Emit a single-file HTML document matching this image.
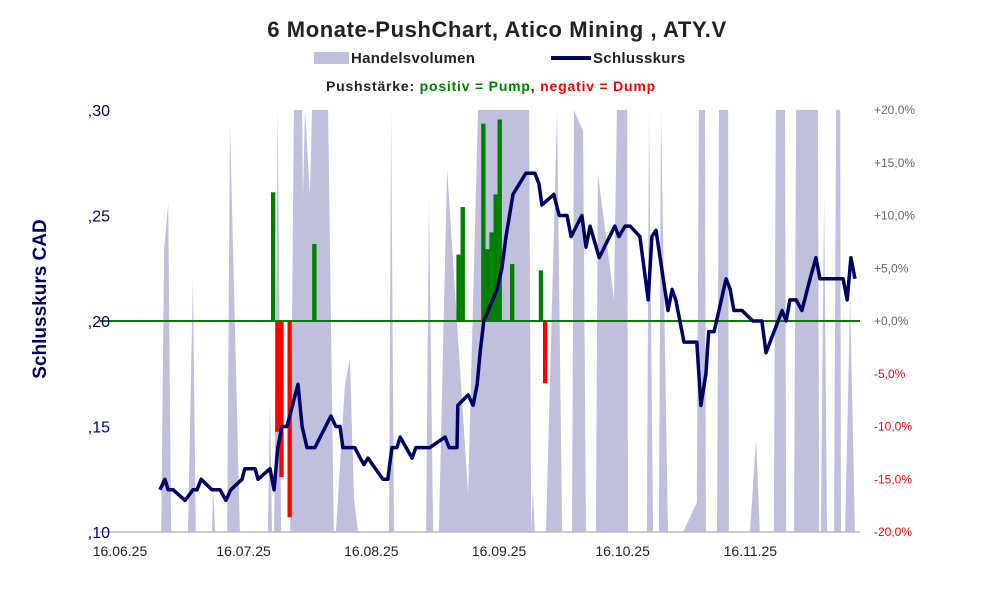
<!DOCTYPE html>
<html><head><meta charset="utf-8"><style>
body{margin:0;background:#fff;}
svg{display:block;font-family:"Liberation Sans",sans-serif;}
</style></head><body>
<svg id="chart" width="993" height="597" viewBox="0 0 993 597">
<text x="497" y="37" text-anchor="middle" font-size="22" font-weight="bold" fill="#222" letter-spacing="0.6">6 Monate-PushChart, Atico Mining , ATY.V</text>
<g>
<rect x="314" y="52" width="35" height="12" fill="#c0c0dc"/>
<text x="351" y="63" font-size="15" font-weight="bold" fill="#222" letter-spacing="0.3">Handelsvolumen</text>
<line x1="551" y1="58" x2="591" y2="58" stroke="#000066" stroke-width="4"/>
<text x="593" y="63" font-size="15" font-weight="bold" fill="#222" letter-spacing="0.3">Schlusskurs</text>
</g>
<text x="491" y="91" text-anchor="middle" font-size="14" font-weight="bold" letter-spacing="0.8"><tspan fill="#222">Pushstärke:  </tspan><tspan fill="#008000">positiv = Pump</tspan><tspan fill="#222">,  </tspan><tspan fill="#ff0000">negativ = Dump</tspan></text>
<text transform="translate(46,299) rotate(-90)" text-anchor="middle" font-size="19" font-weight="bold" fill="#000066">Schlusskurs CAD</text>
<g id="vol"></g>
<g id="grid"></g>
<g id="bars"></g>
<g id="line"></g>
<g id="axes"></g>
</svg>
<script>
const priceDays=[9.7,10.9,11.7,12.9,15.8,17.7,18.7,19.7,22.3,24.3,25.7,26.9,29.6,30.3,32.8,33.5,36.4,37.4,38.3,39.3,40.5,43.2,44.2,45.4,47.3,51.2,52.4,53.4,54.1,57.0,58.3,59.2,60.2,63.8,65.0,66.0,67.2,68.0,70.9,71.8,75.2,78.9,79.9,81.8,82.0,84.5,85.7,86.7,87.4,88.3,91.5,92.7,93.7,95.4,98.5,100.7,101.7,102.4,105.3,106.6,108.5,109.5,112.1,113.1,114.1,116.3,120.1,121.1,122.6,123.8,126.2,128.2,129.1,130.1,133.0,134.0,134.9,136.9,140.0,141.0,142.2,142.9,144.2,147.1,148.1,149.0,151.0,153.6,155.8,156.8,160.7,161.7,162.6,164.1,165.5,167.5,168.9,169.9,175.5,176.5,177.4,178.4];
const priceVals=[0.12,0.125,0.12,0.12,0.115,0.12,0.12,0.125,0.12,0.12,0.115,0.12,0.125,0.13,0.13,0.125,0.13,0.12,0.14,0.15,0.15,0.17,0.15,0.14,0.14,0.155,0.15,0.15,0.14,0.14,0.135,0.132,0.135,0.125,0.125,0.14,0.14,0.145,0.135,0.14,0.14,0.145,0.14,0.14,0.16,0.165,0.16,0.17,0.185,0.2,0.215,0.225,0.24,0.26,0.27,0.27,0.265,0.255,0.26,0.25,0.25,0.24,0.25,0.235,0.245,0.23,0.245,0.24,0.245,0.245,0.24,0.21,0.24,0.243,0.205,0.215,0.21,0.19,0.19,0.16,0.175,0.195,0.195,0.22,0.215,0.205,0.205,0.2,0.2,0.185,0.205,0.2,0.21,0.21,0.205,0.22,0.23,0.22,0.22,0.21,0.23,0.22];
const pushDays=[37,38,39,41,47,82,83,88,89,90,91,92,95,102,103];
const pushVals=[12.2,-10.5,-14.8,-18.6,7.3,6.3,10.8,18.7,6.8,8.4,12.0,19.1,5.4,4.8,-5.9];
const volDays=[10.0,10.7,11.7,12.4,16.5,17.7,18.4,22.3,22.6,23.1,26.0,26.7,29.1,35.9,36.4,36.9,37.4,38.3,39.1,41.3,42.2,44.2,44.4,44.9,46.1,46.6,50.5,51.9,52.4,54.6,55.8,56.8,57.8,65.3,65.8,66.5,74.3,75.0,76.0,77.4,79.4,84.5,86.9,99.3,99.8,100.2,100.7,103.4,106.1,107.3,109.7,110.2,112.4,113.1,115.5,116.0,119.9,120.6,123.1,123.3,127.9,128.4,129.4,130.8,131.3,133.0,136.7,140.0,140.5,142.0,142.2,144.9,145.4,147.6,147.8,152.9,154.4,155.3,158.7,159.2,161.4,161.7,163.6,164.1,169.4,169.7,170.1,170.9,171.6,173.3,173.8,174.8,175.0,176.0,177.2,178.4];
const volVals=[0,0.67,0.78,0,0,0.6,0,0,0.1,0,0,0.97,0,0,0.31,0,0,1,0,0,1,1,0.79,1,0.8,1,1,0,0,0.35,0.41,0.08,0,0,1,0,0,0.79,0,0,0.86,0.09,1,1,0,0.1,0,0,1,0,0,1,0.95,0,0,0.85,0.55,1,1,0,0,1,0,0,1,0,0,0.07,1,1,0,0,1,1,0,0,0.22,0,0,1,1,0,0,1,1,0,0,0.8,0,0,1,1,0,0,0.55,0];
const yTicks=[0.10,0.15,0.20,0.25,0.30];
const yTickLabels=[",10",",15",",20",",25",",30"];
const pTicks=[-20,-15,-10,-5,0,5,10,15,20];
const pTickLabels=["-20,0%","-15,0%","-10,0%","-5,0%","+0,0%","+5,0%","+10,0%","+15,0%","+20,0%"];
const xTickDays=[0,30,61,92,122,153];
const xTickLabels=["16.06.25","16.07.25","16.08.25","16.09.25","16.10.25","16.11.25"];

const NS="http://www.w3.org/2000/svg";
const L=100,R=860,T=110,B=532;
const X=d=>120+d*4.12;
const Y=v=>B-(v-0.10)/0.20*(B-T);
const P=p=>321-p/20*(321-T);
const V=f=>B-Math.min(f,1)*(B-T);
function mk(tag,at,parent){const e=document.createElementNS(NS,tag);for(const k in at)e.setAttribute(k,at[k]);parent.appendChild(e);return e;}

let d="M"+X(volDays[0])+","+B;
volDays.forEach((dd,i)=>{d+=" L"+X(dd).toFixed(1)+","+V(volVals[i]).toFixed(1);});
d+=" L"+X(volDays[volDays.length-1])+","+B+" Z";
const vp=mk("path",{d:d,fill:"#c0c0dc"},document.getElementById("vol"));



const ax=document.getElementById("axes"), gr=document.getElementById("grid");
const bl=mk("line",{x1:L,y1:B,x2:R,y2:B,stroke:"#bbb","stroke-width":1.5},gr);



const bg=document.getElementById("bars");
pushDays.forEach((dd,i)=>{
  const v=pushVals[i];const y0=P(0),y1=P(v);
  const r=mk("rect",{x:(X(dd)-1.4).toFixed(1),y:Math.min(y0,y1),width:4.3,height:Math.abs(y1-y0),fill:v>=0?"#008000":"#ff0000"},bg);
  
  
});
const zl=mk("line",{x1:L,y1:P(0),x2:R,y2:P(0),stroke:"#008000","stroke-width":2},gr);



const pts=priceDays.map((dd,i)=>X(dd).toFixed(1)+","+Y(priceVals[i]).toFixed(1)).join(" ");
const pl=mk("polyline",{points:pts,fill:"none",stroke:"#000066","stroke-width":3.5,"stroke-linejoin":"round"},document.getElementById("line"));



yTicks.forEach((v,i)=>{const t=mk("text",{x:110,y:Y(v)+6,"text-anchor":"end","font-size":16,fill:"#000066"},ax);t.textContent=yTickLabels[i];

});
pTicks.forEach((v,i)=>{const t=mk("text",{x:874,y:P(v)+4,"font-size":12,fill:v<0?"#ff0000":"#666"},ax);t.textContent=pTickLabels[i];

});
xTickDays.forEach((v,i)=>{const t=mk("text",{x:X(v),y:556,"text-anchor":"middle","font-size":14,fill:"#222"},ax);t.textContent=xTickLabels[i];

});
</script>
</body></html>
